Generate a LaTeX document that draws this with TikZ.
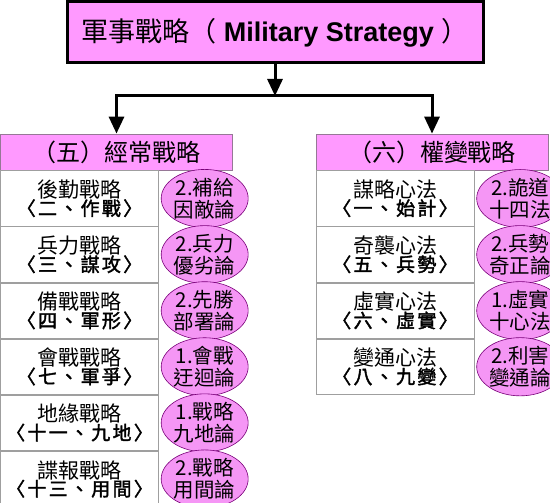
\documentclass[tikz,border=0pt]{standalone}
\usepackage{fontspec}
\setmainfont{Liberation Sans}
\newfontfamily\cjk[AutoFakeBold=2]{Noto Sans CJK TC}
\usepackage{tikz}
\usetikzlibrary{shapes.geometric, arrows.meta, positioning}

\definecolor{pinkfill}{RGB}{255,153,255}
\definecolor{ballfill}{RGB}{245,150,245}
\definecolor{balledge}{RGB}{120,0,120}
\definecolor{headedge}{RGB}{150,120,150}

\begin{document}
\begin{tikzpicture}[
  x=1pt, y=-1pt,
  topbox/.style={rectangle, draw=black, line width=3pt, fill=pinkfill,
                 minimum width=416pt, minimum height=61pt, inner sep=0pt},
  headbox/.style={rectangle, draw=headedge, line width=0.8pt, fill=pinkfill,
                  minimum width=232pt, minimum height=36pt, inner sep=0pt,
                  font=\cjk\fontsize{24}{28}\selectfont},
  cellbox/.style={rectangle, draw=gray!75, line width=0.8pt, fill=white, align=center,
                  minimum width=158pt, minimum height=55.3pt, inner sep=0pt},
  ball/.style={ellipse, draw=balledge, line width=0.6pt, fill=ballfill, align=center,
               minimum width=72pt, minimum height=54pt, inner sep=0pt,
               font=\cjk\fontsize{20.5}{22}\selectfont},
  arr/.style={-{Triangle[length=17pt, width=15pt]}, line width=3pt}]
  \newcommand{\twoline}[2]{{\cjk\fontsize{21}{25}\selectfont #1}\\[-1pt]{\cjk\bfseries\addfontfeature{LetterSpace=12}\fontsize{19}{22}\selectfont #2}}
  \useasboundingbox (0,0) rectangle (550,503);
  % top
  \node[topbox] (top) at (275,32.5)
    {{\cjk\fontsize{27}{30}\selectfont 軍事戰略（}\fontsize{27}{30}\selectfont\bfseries\ Military Strategy\ {\cjk\mdseries ）}};
  \coordinate (jn) at (275,96);
  % two heads
  \node[headbox] (lhead) at (116.5,152) {（五）經常戰略};
  \node[headbox] (rhead) at (432,152) {（六）權變戰略};
  \draw[arr] (top) -- (jn);
  \draw[arr] (jn) -| (lhead);
  \draw[arr] (jn) -| (rhead);
  % left column
  \node[cellbox, below right=0pt and 0pt of lhead.south west] (l1) {\twoline{後勤戰略}{〈二、作戰〉}};
  \node[cellbox, below=0pt of l1] (l2) {\twoline{兵力戰略}{〈三、謀攻〉}};
  \node[cellbox, below=0pt of l2] (l3) {\twoline{備戰戰略}{〈四、軍形〉}};
  \node[cellbox, below=0pt of l3] (l4) {\twoline{會戰戰略}{〈七、軍爭〉}};
  \node[cellbox, below=0pt of l4] (l5) {\twoline{地緣戰略}{〈十一、九地〉}};
  \node[cellbox, below=0pt of l5] (l6) {\twoline{諜報戰略}{〈十三、用間〉}};
  \node[ball, right=2pt of l1] (lb1) {2.補給\\因敵論};
  \node[ball, right=2pt of l2] (lb2) {2.兵力\\優劣論};
  \node[ball, right=2pt of l3] (lb3) {2.先勝\\部署論};
  \node[ball, right=2pt of l4] (lb4) {1.會戰\\迂迴論};
  \node[ball, right=2pt of l5] (lb5) {1.戰略\\九地論};
  \node[ball, right=2pt of l6] (lb6) {2.戰略\\用間論};
  % right column
  \node[cellbox, below right=0pt and 0pt of rhead.south west] (r1) {\twoline{謀略心法}{〈一、始計〉}};
  \node[cellbox, below=0pt of r1] (r2) {\twoline{奇襲心法}{〈五、兵勢〉}};
  \node[cellbox, below=0pt of r2] (r3) {\twoline{虛實心法}{〈六、虛實〉}};
  \node[cellbox, below=0pt of r3] (r4) {\twoline{變通心法}{〈八、九變〉}};
  \node[ball, minimum width=70pt, right=2pt of r1] (rb1) {2.詭道\\十四法};
  \node[ball, minimum width=70pt, right=2pt of r2] (rb2) {2.兵勢\\奇正論};
  \node[ball, minimum width=70pt, right=2pt of r3] (rb3) {1.虛實\\十心法};
  \node[ball, minimum width=70pt, right=2pt of r4] (rb4) {2.利害\\變通論};
\end{tikzpicture}
\end{document}
